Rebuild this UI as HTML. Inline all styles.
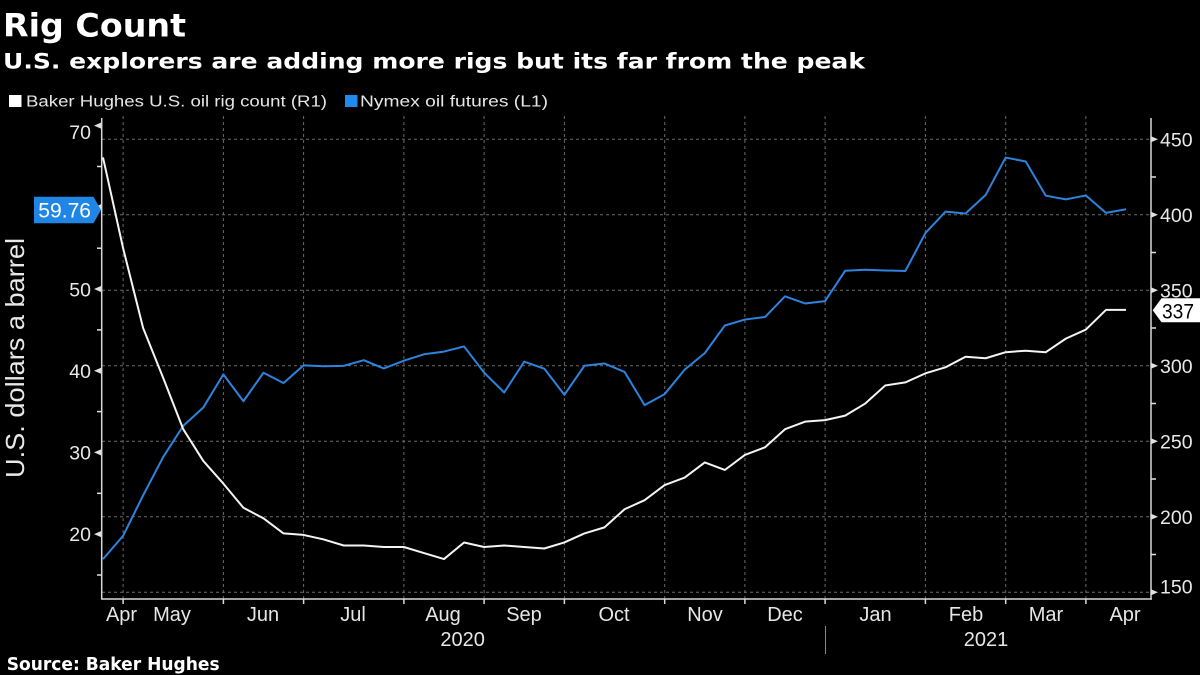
<!DOCTYPE html>
<html><head><meta charset="utf-8"><style>
html,body{margin:0;padding:0;background:#000;}
svg{display:block;}
</style></head><body>
<svg width="1200" height="675" viewBox="0 0 1200 675" xmlns="http://www.w3.org/2000/svg">
<rect width="1200" height="675" fill="#000"/>
<!-- titles -->
<text x="3" y="36.7" font-family="DejaVu Sans, Liberation Sans, sans-serif" font-weight="bold" font-size="32" fill="#fff" textLength="183" lengthAdjust="spacingAndGlyphs">Rig Count</text>
<text x="3" y="68.3" font-family="DejaVu Sans, Liberation Sans, sans-serif" font-weight="bold" font-size="21.5" fill="#fff" textLength="862" lengthAdjust="spacingAndGlyphs">U.S. explorers are adding more rigs but its far from the peak</text>
<!-- legend -->
<rect x="9" y="95" width="12.5" height="12" fill="#fff"/>
<text x="26" y="106.5" font-family="Liberation Sans, sans-serif" font-size="15.5" fill="#e6e6e6" textLength="301" lengthAdjust="spacingAndGlyphs">Baker Hughes U.S. oil rig count (R1)</text>
<rect x="345" y="95" width="12.5" height="12" fill="#2189ea"/>
<text x="360" y="106.5" font-family="Liberation Sans, sans-serif" font-size="15.5" fill="#e6e6e6" textLength="188" lengthAdjust="spacingAndGlyphs">Nymex oil futures (L1)</text>

<!-- gridlines -->
<g stroke="#6a6a6a" stroke-width="1" stroke-dasharray="3,3" fill="none">
<line x1="102" y1="139.3" x2="1151" y2="139.3"/>
<line x1="102" y1="214.8" x2="1151" y2="214.8"/>
<line x1="102" y1="290.3" x2="1151" y2="290.3"/>
<line x1="102" y1="365.8" x2="1151" y2="365.8"/>
<line x1="102" y1="441.3" x2="1151" y2="441.3"/>
<line x1="102" y1="516.8" x2="1151" y2="516.8"/>
<line x1="102" y1="592.3" x2="1151" y2="592.3"/>
<line x1="123.1" y1="116" x2="123.1" y2="599"/>
<line x1="223.4" y1="116" x2="223.4" y2="599"/>
<line x1="303.6" y1="116" x2="303.6" y2="599"/>
<line x1="403.9" y1="116" x2="403.9" y2="599"/>
<line x1="484.1" y1="116" x2="484.1" y2="599"/>
<line x1="564.4" y1="116" x2="564.4" y2="599"/>
<line x1="664.7" y1="116" x2="664.7" y2="599"/>
<line x1="744.9" y1="116" x2="744.9" y2="599"/>
<line x1="825.1" y1="116" x2="825.1" y2="599"/>
<line x1="925.4" y1="116" x2="925.4" y2="599"/>
<line x1="1005.7" y1="116" x2="1005.7" y2="599"/>
<line x1="1085.9" y1="116" x2="1085.9" y2="599"/>
</g>

<!-- axes -->
<g stroke="#d8d8d8" stroke-width="1.5" fill="none">
<line x1="101.7" y1="118" x2="101.7" y2="599.5"/>
<line x1="1151" y1="118" x2="1151" y2="599.5"/>
<line x1="101" y1="599" x2="1152" y2="599"/>
</g>
<!-- bottom ticks -->
<g stroke="#d8d8d8" stroke-width="1.5">
<line x1="123.1" y1="599" x2="123.1" y2="604"/>
<line x1="223.4" y1="599" x2="223.4" y2="604"/>
<line x1="303.6" y1="599" x2="303.6" y2="604"/>
<line x1="403.9" y1="599" x2="403.9" y2="604"/>
<line x1="484.1" y1="599" x2="484.1" y2="604"/>
<line x1="564.4" y1="599" x2="564.4" y2="604"/>
<line x1="664.7" y1="599" x2="664.7" y2="604"/>
<line x1="744.9" y1="599" x2="744.9" y2="604"/>
<line x1="825.1" y1="599" x2="825.1" y2="604"/>
<line x1="925.4" y1="599" x2="925.4" y2="604"/>
<line x1="1005.7" y1="599" x2="1005.7" y2="604"/>
<line x1="1085.9" y1="599" x2="1085.9" y2="604"/>
</g>
<!-- left ticks -->
<g fill="#e0e0e0">
<polygon points="94,125.6 101,122.6 101,128.6"/>
<polygon points="94,207.3 101,204.3 101,210.3"/>
<polygon points="94,289 101,286 101,292"/>
<polygon points="94,370.7 101,367.7 101,373.7"/>
<polygon points="94,452.4 101,449.4 101,455.4"/>
<polygon points="94,534.1 101,531.1 101,537.1"/>
</g>
<g stroke="#e0e0e0" stroke-width="1.5">
<line x1="97" y1="166.5" x2="102" y2="166.5"/>
<line x1="97" y1="248.2" x2="102" y2="248.2"/>
<line x1="97" y1="329.9" x2="102" y2="329.9"/>
<line x1="97" y1="411.6" x2="102" y2="411.6"/>
<line x1="97" y1="493.3" x2="102" y2="493.3"/>
<line x1="97" y1="575" x2="102" y2="575"/>
</g>
<!-- right ticks -->
<g fill="#e0e0e0">
<polygon points="1158,139.3 1151,136.3 1151,142.3"/>
<polygon points="1158,214.8 1151,211.8 1151,217.8"/>
<polygon points="1158,290.3 1151,287.3 1151,293.3"/>
<polygon points="1158,365.8 1151,362.8 1151,368.8"/>
<polygon points="1158,441.3 1151,438.3 1151,444.3"/>
<polygon points="1158,516.8 1151,513.8 1151,519.8"/>
<polygon points="1158,592.3 1151,589.3 1151,595.3"/>
</g>
<g stroke="#e0e0e0" stroke-width="1.5">
<line x1="1151" y1="177" x2="1156" y2="177"/>
<line x1="1151" y1="252.5" x2="1156" y2="252.5"/>
<line x1="1151" y1="328" x2="1156" y2="328"/>
<line x1="1151" y1="403.5" x2="1156" y2="403.5"/>
<line x1="1151" y1="479" x2="1156" y2="479"/>
<line x1="1151" y1="554.5" x2="1156" y2="554.5"/>
</g>

<!-- left labels -->
<g font-family="Liberation Sans, sans-serif" font-size="19.5" fill="#e8e8e8" text-anchor="end">
<text x="91" y="139">70</text>
<text x="91" y="296.3">50</text>
<text x="91" y="377.8">40</text>
<text x="91" y="459.5">30</text>
<text x="91" y="541.2">20</text>
</g>
<!-- right labels -->
<g font-family="Liberation Sans, sans-serif" font-size="19.5" fill="#e8e8e8">
<text x="1160" y="146.5">450</text>
<text x="1160" y="222">400</text>
<text x="1160" y="297.5">350</text>
<text x="1160" y="373">300</text>
<text x="1160" y="448.5">250</text>
<text x="1160" y="524">200</text>
<text x="1160" y="593.5">150</text>
</g>
<!-- y axis title -->
<text transform="translate(24,358) rotate(-90)" text-anchor="middle" font-family="Liberation Sans, sans-serif" font-size="26" fill="#e8e8e8" textLength="240" lengthAdjust="spacingAndGlyphs">U.S. dollars a barrel</text>

<!-- month labels -->
<g font-family="Liberation Sans, sans-serif" font-size="20" fill="#e6e6e6" text-anchor="middle">
<text x="121.5" y="621">Apr</text>
<text x="172" y="621">May</text>
<text x="263" y="621">Jun</text>
<text x="353" y="621">Jul</text>
<text x="443" y="621">Aug</text>
<text x="524" y="621">Sep</text>
<text x="614" y="621">Oct</text>
<text x="705" y="621">Nov</text>
<text x="785" y="621">Dec</text>
<text x="875.5" y="621">Jan</text>
<text x="966" y="621">Feb</text>
<text x="1046" y="621">Mar</text>
<text x="1125" y="621">Apr</text>
<text x="462.6" y="646">2020</text>
<text x="986" y="646">2021</text>
</g>
<line x1="825.5" y1="626" x2="825.5" y2="654" stroke="#888" stroke-width="1"/>

<!-- series -->
<g transform="matrix(20.059,0,0,-8.17,103,697.5)">
<polyline fill="none" stroke="#2d83dd" stroke-width="2" vector-effect="non-scaling-stroke" stroke-linejoin="round" points="0,16.94 1,19.78 2,24.74 3,29.43 4,33.25 5,35.49 6,39.55 7,36.26 8,39.75 9,38.49 10,40.65 11,40.55 12,40.59 13,41.29 14,40.27 15,41.22 16,42.01 17,42.34 18,42.97 19,39.77 20,37.33 21,41.11 22,40.25 23,37.05 24,40.60 25,40.88 26,39.85 27,35.79 28,37.14 29,40.13 30,42.15 31,45.53 32,46.26 33,46.57 34,49.10 35,48.23 36,48.52 37,52.24 38,52.36 39,52.27 40,52.20 41,56.85 42,59.47 43,59.24 44,61.50 45,66.09 46,65.61 47,61.42 48,60.97 49,61.45 50,59.32 51,59.76"/>
</g>
<g transform="matrix(20.059,0,0,-1.51,103,818.8)">
<polyline fill="none" stroke="#f4f4f4" stroke-width="2" vector-effect="non-scaling-stroke" stroke-linejoin="round" points="0,438 1,378 2,325 3,292 4,258 5,237 6,222 7,206 8,199 9,189 10,188 11,185 12,181 13,181 14,180 15,180 16,176 17,172 18,183 19,180 20,181 21,180 22,179 23,183 24,189 25,193 26,205 27,211 28,221 29,226 30,236 31,231 32,241 33,246 34,258 35,263 36,264 37,267 38,275 39,287 40,289 41,295 42,299 43,306 44,305 45,309 46,310 47,309 48,318 49,324 50,337 51,337"/>
</g>

<!-- value labels -->
<polygon points="34,196.7 93.5,196.7 101,210 93.5,223.3 34,223.3" fill="#1f86e6"/>
<text x="38.3" y="217.5" font-family="Liberation Sans, sans-serif" font-size="21" fill="#fff" textLength="52.7" lengthAdjust="spacingAndGlyphs">59.76</text>
<polygon points="1152.7,310.3 1161.5,298.3 1200,298.3 1200,322.3 1161.5,322.3" fill="#fff"/>
<text x="1162" y="318.5" font-family="Liberation Sans, sans-serif" font-size="21" fill="#000" textLength="32" lengthAdjust="spacingAndGlyphs">337</text>

<!-- source -->
<text x="6.7" y="670" font-family="DejaVu Sans, Liberation Sans, sans-serif" font-weight="bold" font-size="17.5" fill="#fff" textLength="213" lengthAdjust="spacingAndGlyphs">Source: Baker Hughes</text>
</svg>
</body></html>
